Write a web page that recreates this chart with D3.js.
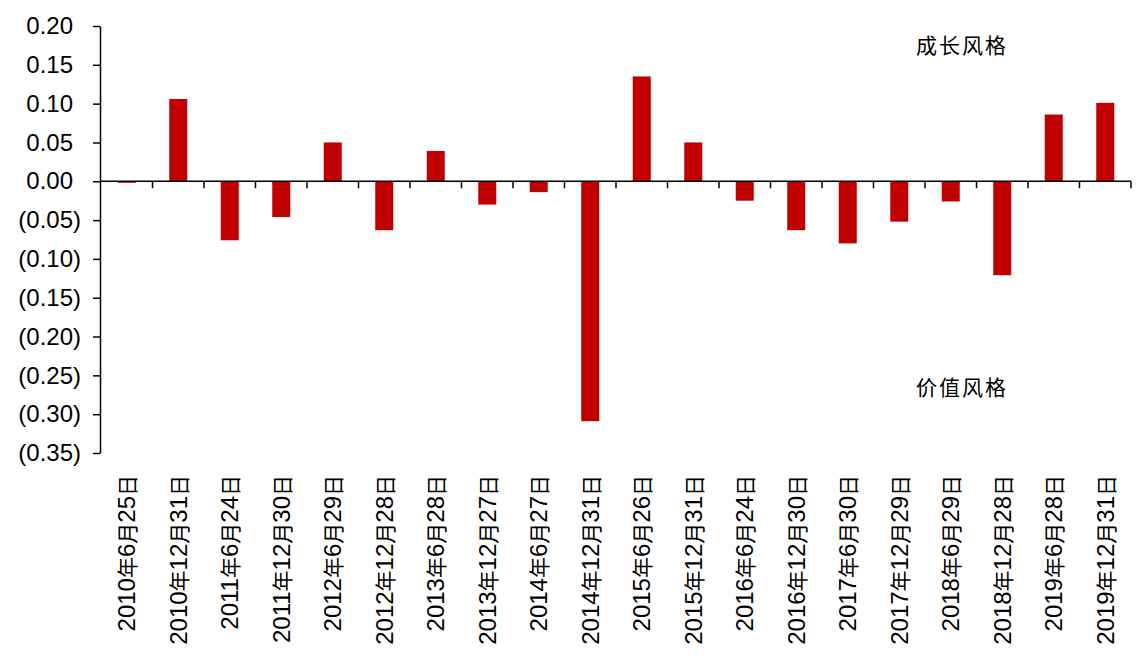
<!DOCTYPE html>
<meta charset="utf-8">
<head>
  <style>
    body { margin: 0; background: #fff; }
    svg text { font-family: "Liberation Sans", Arial, "Noto Sans CJK SC", sans-serif; }
  </style>
</head>
<body>
  <div class="chart"></div>
  <script src="https://d3js.org/d3.v7.min.js"></script>
  <script>
    // 日期（半年）
    var dates = [
      "2010年6月25日", "2010年12月31日", "2011年6月24日", "2011年12月30日",
      "2012年6月29日", "2012年12月28日", "2013年6月28日", "2013年12月27日",
      "2014年6月27日", "2014年12月31日", "2015年6月26日", "2015年12月31日",
      "2016年6月24日", "2016年12月30日", "2017年6月30日", "2017年12月29日",
      "2018年6月29日", "2018年12月28日", "2019年6月28日", "2019年12月31日"
    ];
    // 数值
    var values = [
      -0.002, 0.106, -0.076, -0.046, 0.050, -0.063, 0.039, -0.030,
      -0.014, -0.309, 0.135, 0.050, -0.025, -0.063, -0.080, -0.052,
      -0.026, -0.121, 0.086, 0.101
    ];
    var yTicks = [0.20, 0.15, 0.10, 0.05, 0.00, -0.05, -0.10, -0.15, -0.20, -0.25, -0.30, -0.35];
    var notes = ["成长风格", "价值风格"];

    var width = 1140, height = 660;

    var svg = d3.select(".chart").append("svg")
      .attr("width", width)
      .attr("height", height);

    var x = d3.scaleBand()
      .domain(dates)
      .range([101, 1131])
      .paddingInner(0.65)
      .paddingOuter(0.325);

    var y = d3.scaleLinear()
      .domain([-0.35, 0.20])
      .range([453, 26]);

    var fmt = function (v) {
      var s = Math.abs(v).toFixed(2);
      return v < -1e-9 ? "(" + s + ")" : s;
    };

    // 柱子
    svg.selectAll(".bar")
      .data(values)
      .enter().append("rect")
      .attr("class", "bar")
      .attr("x", function (d, i) { return x(dates[i]); })
      .attr("width", x.bandwidth())
      .attr("y", function (d) { return d >= 0 ? y(d) : y(0); })
      .attr("height", function (d) { return Math.max(1.5, Math.abs(y(d) - y(0))); })
      .attr("fill", "#c00000");

    // y轴
    var yAxis = svg.append("g")
      .attr("transform", "translate(100,0)")
      .call(d3.axisLeft(y).tickValues(yTicks).tickSize(7).tickSizeOuter(0).tickPadding(20).tickFormat(fmt));
    yAxis.select(".domain").attr("stroke", "#000").attr("stroke-width", 1.5);
    yAxis.selectAll(".tick line").attr("stroke", "#000").attr("stroke-width", 1.5);
    yAxis.selectAll(".tick text")
      .attr("fill", "#000")
      .attr("dx", function (d) { return d < -1e-9 ? 8 : 0; }) // 括号向右悬出
      .style("font-size", "24px")
      .style("font-family", "'Liberation Sans', Arial, sans-serif");

    // x轴（零线）
    svg.append("line")
      .attr("x1", 100).attr("x2", 1131)
      .attr("y1", y(0)).attr("y2", y(0))
      .attr("stroke", "#000").attr("stroke-width", 1.5);

    var step = x.step();
    var bounds = dates.map(function (d) { return x(d) + x.bandwidth() / 2 + step / 2; });
    svg.selectAll(".xtick")
      .data(bounds)
      .enter().append("line")
      .attr("class", "xtick")
      .attr("x1", function (d) { return d; })
      .attr("x2", function (d) { return d; })
      .attr("y1", y(0))
      .attr("y2", y(0) + 7)
      .attr("stroke", "#000").attr("stroke-width", 1.5);

    // x轴标签：数字24px，汉字稍小
    var labels = svg.selectAll(".xlabel")
      .data(dates)
      .enter().append("text")
      .attr("class", "xlabel")
      .attr("transform", function (d) {
        return "translate(" + (x(d) + x.bandwidth() / 2) + ",475) rotate(-90)";
      })
      .attr("text-anchor", "end")
      .attr("dy", "0.36em")
      .style("font-size", "24px")
      .attr("fill", "#000");

    labels.selectAll("tspan")
      .data(function (d) { return d.match(/\d+|[^\d]+/g); })
      .enter().append("tspan")
      .style("font-size", function (p) { return /\d/.test(p) ? "24px" : "21px"; })
      .style("font-family", function (p) {
        return /\d/.test(p) ? "'Liberation Sans', Arial, sans-serif" : "'Noto Sans CJK SC', sans-serif";
      })
      .text(function (p) { return p; });

    // 注释
    svg.selectAll(".note")
      .data(notes)
      .enter().append("text")
      .attr("class", "note")
      .attr("x", 916)
      .attr("y", function (d, i) { return i === 0 ? 53 : 395; })
      .style("font-size", "21px")
      .style("font-family", "'Noto Sans CJK SC', sans-serif")
      .style("letter-spacing", "2px")
      .attr("fill", "#000")
      .text(function (d) { return d; });
  </script>
</body>
